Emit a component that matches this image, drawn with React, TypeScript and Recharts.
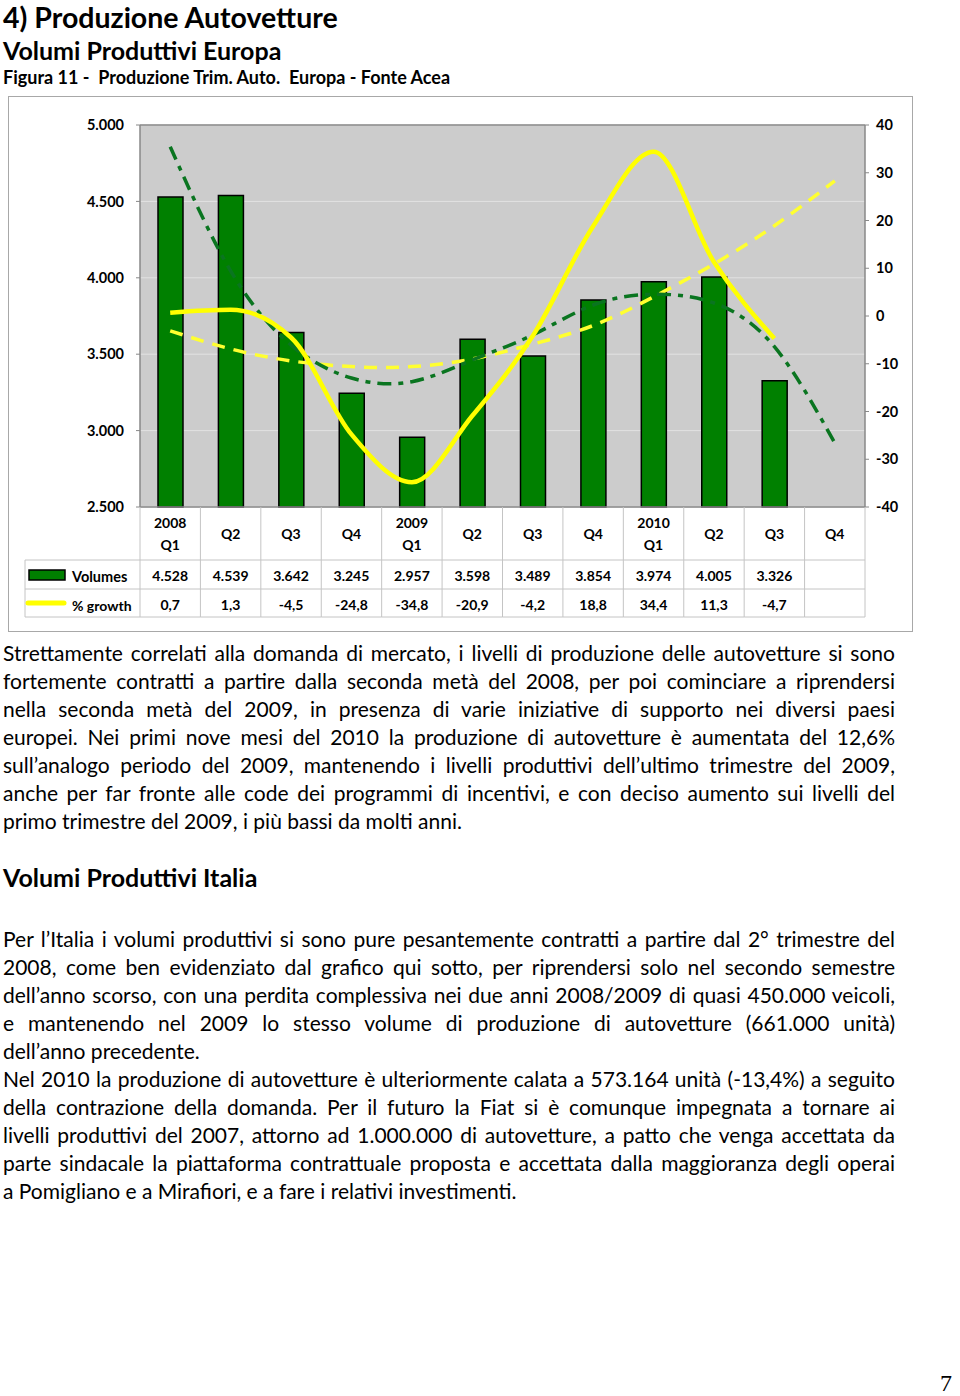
import React from 'react';
import { ComposedChart, Bar, Line, XAxis, YAxis, CartesianGrid, ReferenceLine } from 'recharts';

// ---- data ----
const years = ['2008', '', '', '', '2009', '', '', '', '2010', '', '', ''];
const quarters = ['Q1', 'Q2', 'Q3', 'Q4', 'Q1', 'Q2', 'Q3', 'Q4', 'Q1', 'Q2', 'Q3', 'Q4'];
const volumes: (number | null)[] = [4528, 4539, 3642, 3245, 2957, 3598, 3489, 3854, 3974, 4005, 3326, null];
const growth: (number | null)[] = [0.7, 1.3, -4.5, -24.8, -34.8, -20.9, -4.2, 18.8, 34.4, 11.3, -4.7, null];
const volumeTrend = [4858, 4045, 3560, 3344, 3320, 3462, 3626, 3822, 3892, 3835, 3549, 2919];
const growthTrend = [-3.1, -6.9, -9.4, -10.6, -10.6, -9.0, -5.9, -2.0, 4.0, 10.9, 18.9, 28.3];
const leftTicks = [2500, 3000, 3500, 4000, 4500, 5000];
const rightTicks = [-40, -30, -20, -10, 0, 10, 20, 30, 40];

const data = quarters.map((q, i) => ({
  key: `${years[i]} ${q} ${i}`,
  volumes: volumes[i],
  growth: growth[i],
  volumeTrend: volumeTrend[i],
  growthTrend: growthTrend[i],
}));

const para1 = [
  'Strettamente correlati alla domanda di mercato, i livelli di produzione delle autovetture si sono',
  'fortemente contratti a partire dalla seconda metà del 2008, per poi cominciare a riprendersi',
  'nella seconda metà del 2009, in presenza di varie iniziative di supporto nei diversi paesi',
  'europei. Nei primi nove mesi del 2010 la produzione di autovetture è aumentata del 12,6%',
  'sull’analogo periodo del 2009, mantenendo i livelli produttivi dell’ultimo trimestre del 2009,',
  'anche per far fronte alle code dei programmi di incentivi, e con deciso aumento sui livelli del',
  'primo trimestre del 2009, i più bassi da molti anni.',
];
const para1Last = [6];

const para2 = [
  'Per l’Italia i volumi produttivi si sono pure pesantemente contratti a partire dal 2° trimestre del',
  '2008, come ben evidenziato dal grafico qui sotto, per riprendersi solo nel secondo semestre',
  'dell’anno scorso, con una perdita complessiva nei due anni 2008/2009 di quasi 450.000 veicoli,',
  'e mantenendo nel 2009 lo stesso volume di produzione di autovetture (661.000 unità)',
  'dell’anno precedente.',
  'Nel 2010 la produzione di autovetture è ulteriormente calata a 573.164 unità (-13,4%) a seguito',
  'della contrazione della domanda. Per il futuro la Fiat si è comunque impegnata a tornare ai',
  'livelli produttivi del 2007, attorno ad 1.000.000 di autovetture, a patto che venga accettata da',
  'parte sindacale la piattaforma contrattuale proposta e accettata dalla maggioranza degli operai',
  'a Pomigliano e a Mirafiori, e a fare i relativi investimenti.',
];
const para2Last = [4, 9];

// ---- layout ----
const CHART_W = 905;
const CHART_H = 536;
const PLOT_LEFT = 132;
const PLOT_RIGHT = 48;
const PLOT_W = CHART_W - PLOT_LEFT - PLOT_RIGHT;
const BAND = PLOT_W / quarters.length;
const GRID = '#c4c4c4';
const FONT = 'Lato, "Open Sans", sans-serif';

const fmtThousands = (v: number) => {
  const s = String(Math.round(v));
  if (Math.abs(v) < 1000) return s;
  return s.slice(0, s.length - 3) + '.' + s.slice(s.length - 3);
};
const fmtDec = (v: number) => v.toFixed(1).replace('.', ',');

const TableTick = (props: any) => {
  const { x, y, payload } = props;
  const i: number = payload?.index ?? props.index ?? 0;
  const l = x - BAND / 2;
  const r = x + BAND / 2;
  const txt = { fontFamily: FONT, fontWeight: 700, fontSize: 14, fill: '#000' } as const;
  const v = volumes[i];
  const g = growth[i];
  return (
    <g>
      {years[i] ? (
        <>
          <text x={x} y={y + 15} textAnchor="middle" dominantBaseline="central" {...txt}>{years[i]}</text>
          <text x={x} y={y + 37} textAnchor="middle" dominantBaseline="central" {...txt}>{quarters[i]}</text>
        </>
      ) : (
        <text x={x} y={y + 26} textAnchor="middle" dominantBaseline="central" {...txt}>{quarters[i]}</text>
      )}
      <line x1={l} x2={l} y1={y} y2={y + 110} stroke={GRID} strokeWidth={1} />
      {i === quarters.length - 1 && <line x1={r} x2={r} y1={y} y2={y + 110} stroke={GRID} strokeWidth={1} />}
      <line x1={l} x2={r} y1={y + 53} y2={y + 53} stroke={GRID} strokeWidth={1} />
      <line x1={l} x2={r} y1={y + 82} y2={y + 82} stroke={GRID} strokeWidth={1} />
      <line x1={l} x2={r} y1={y + 110} y2={y + 110} stroke={GRID} strokeWidth={1} />
      {v != null && (
        <text x={x} y={y + 68} textAnchor="middle" dominantBaseline="central" {...txt}>{fmtThousands(v)}</text>
      )}
      {g != null && (
        <text x={x} y={y + 97} textAnchor="middle" dominantBaseline="central" {...txt}>{fmtDec(g)}</text>
      )}
      {i === 0 && (() => {
        const xl = l - 115;
        return (
          <g>
            <line x1={xl} x2={l} y1={y + 53} y2={y + 53} stroke={GRID} strokeWidth={1} />
            <line x1={xl} x2={l} y1={y + 82} y2={y + 82} stroke={GRID} strokeWidth={1} />
            <line x1={xl} x2={l} y1={y + 110} y2={y + 110} stroke={GRID} strokeWidth={1} />
            <line x1={xl} x2={xl} y1={y + 53} y2={y + 110} stroke={GRID} strokeWidth={1} />
            <rect x={xl + 4} y={y + 63} width={36} height={10} fill="#008000" stroke="#000" strokeWidth={1.5} />
            <text x={xl + 47} y={y + 69} dominantBaseline="central" {...txt} fontSize={14.5}>Volumes</text>
            <line x1={xl + 3} x2={xl + 39} y1={y + 96} y2={y + 96} stroke="#ffff00" strokeWidth={5} strokeLinecap="round" />
            <text x={xl + 47} y={y + 98} dominantBaseline="central" {...txt} fontSize={14}>% growth</text>
          </g>
        );
      })()}
    </g>
  );
};

const Chart = () => (
  <ComposedChart
    width={CHART_W}
    height={CHART_H}
    data={data}
    margin={{ top: 29, right: 8, bottom: 10, left: 32 }}
  >
    <CartesianGrid yAxisId="left" vertical={false} horizontal stroke="#e2e2e2" fill="#cccccc" />
    <XAxis
      dataKey="key"
      interval={0}
      height={115}
      tickSize={0}
      tickMargin={0}
      axisLine={{ stroke: '#888', strokeWidth: 1.5 }}
      tick={<TableTick />}
    />
    <YAxis
      yAxisId="left"
      orientation="left"
      width={100}
      domain={[2500, 5000]}
      ticks={leftTicks}
      interval={0}
      tickFormatter={fmtThousands}
      tickSize={4}
      tickMargin={12}
      axisLine={{ stroke: '#888', strokeWidth: 1.5 }}
      tickLine={{ stroke: '#888' }}
      tick={{ fontFamily: FONT, fontWeight: 700, fontSize: 14.5, fill: '#000' }}
    />
    <YAxis
      yAxisId="right"
      orientation="right"
      width={40}
      domain={[-40, 40]}
      ticks={rightTicks}
      interval={0}
      tickSize={4}
      tickMargin={7}
      axisLine={{ stroke: '#888', strokeWidth: 1.5 }}
      tickLine={{ stroke: '#888' }}
      tick={{ fontFamily: FONT, fontWeight: 700, fontSize: 14.5, fill: '#000', textAnchor: 'start' }}
    />
    <ReferenceLine yAxisId="left" y={5000} stroke="#888" strokeWidth={1.5} />
    <Bar
      yAxisId="left"
      dataKey="volumes"
      barSize={25}
      fill="#008000"
      stroke="#000"
      strokeWidth={1.5}
      isAnimationActive={false}
    />
    <Line
      yAxisId="right"
      dataKey="growthTrend"
      type="natural"
      stroke="#ffff30"
      strokeWidth={3.5}
      strokeDasharray="13 9"
      dot={false}
      activeDot={false}
      isAnimationActive={false}
    />
    <Line
      yAxisId="left"
      dataKey="volumeTrend"
      type="natural"
      stroke="#0a7520"
      strokeWidth={3.5}
      strokeDasharray="14 7 5 7"
      dot={false}
      activeDot={false}
      isAnimationActive={false}
    />
    <Line
      yAxisId="right"
      dataKey="growth"
      type="monotone"
      stroke="#ffff00"
      strokeWidth={4.5}
      dot={false}
      activeDot={false}
      connectNulls={false}
      isAnimationActive={false}
    />
  </ComposedChart>
);

const Paragraph = ({ lines, lastIdx, top }: { lines: string[]; lastIdx: number[]; top: number }) => (
  <div style={{ position: 'absolute', left: 3, top, width: 892, fontFamily: FONT, fontSize: 21, lineHeight: '28px', color: '#000' }}>
    {lines.map((ln, i) => (
      <div
        key={i}
        style={{
          textAlign: lastIdx.includes(i) ? 'left' : 'justify',
          textAlignLast: lastIdx.includes(i) ? 'left' : 'justify',
          height: 28,
        } as React.CSSProperties}
      >
        {ln}
      </div>
    ))}
  </div>
);

export default function App() {
  return (
    <div style={{ position: 'relative', width: 960, height: 1396, background: '#fff', overflow: 'hidden', fontFamily: FONT }}>
      <style>{'body{margin:0;}'}</style>
      <div style={{ position: 'absolute', left: 3, top: 2, fontSize: 28.5, fontWeight: 700, lineHeight: '30px', whiteSpace: 'pre' }}>
        4) Produzione Autovetture
      </div>
      <div style={{ position: 'absolute', left: 3, top: 35, fontSize: 25, fontWeight: 700, lineHeight: '30px', whiteSpace: 'pre' }}>
        Volumi Produttivi Europa
      </div>
      <div style={{ position: 'absolute', left: 3, top: 66, fontSize: 18, fontWeight: 700, lineHeight: '22px', whiteSpace: 'pre' }}>
        {'Figura 11 -  Produzione Trim. Auto.  Europa - Fonte Acea'}
      </div>
      <div style={{ position: 'absolute', left: 8, top: 96, width: CHART_W, height: CHART_H }}>
        <Chart />
        <div style={{ position: 'absolute', left: 0, top: 0, width: CHART_W, height: CHART_H, border: '1.5px solid #a8a8a8', boxSizing: 'border-box', pointerEvents: 'none' }} />
      </div>
      <Paragraph lines={para1} lastIdx={para1Last} top={639} />
      <div style={{ position: 'absolute', left: 3, top: 862, fontSize: 25, fontWeight: 700, lineHeight: '30px', whiteSpace: 'pre' }}>
        Volumi Produttivi Italia
      </div>
      <Paragraph lines={para2} lastIdx={para2Last} top={925} />
      <div style={{ position: 'absolute', left: 940, top: 1368, fontFamily: '"Liberation Serif", "DejaVu Serif", serif', fontSize: 24, lineHeight: '30px', whiteSpace: 'pre' }}>
        7
      </div>
    </div>
  );
}
